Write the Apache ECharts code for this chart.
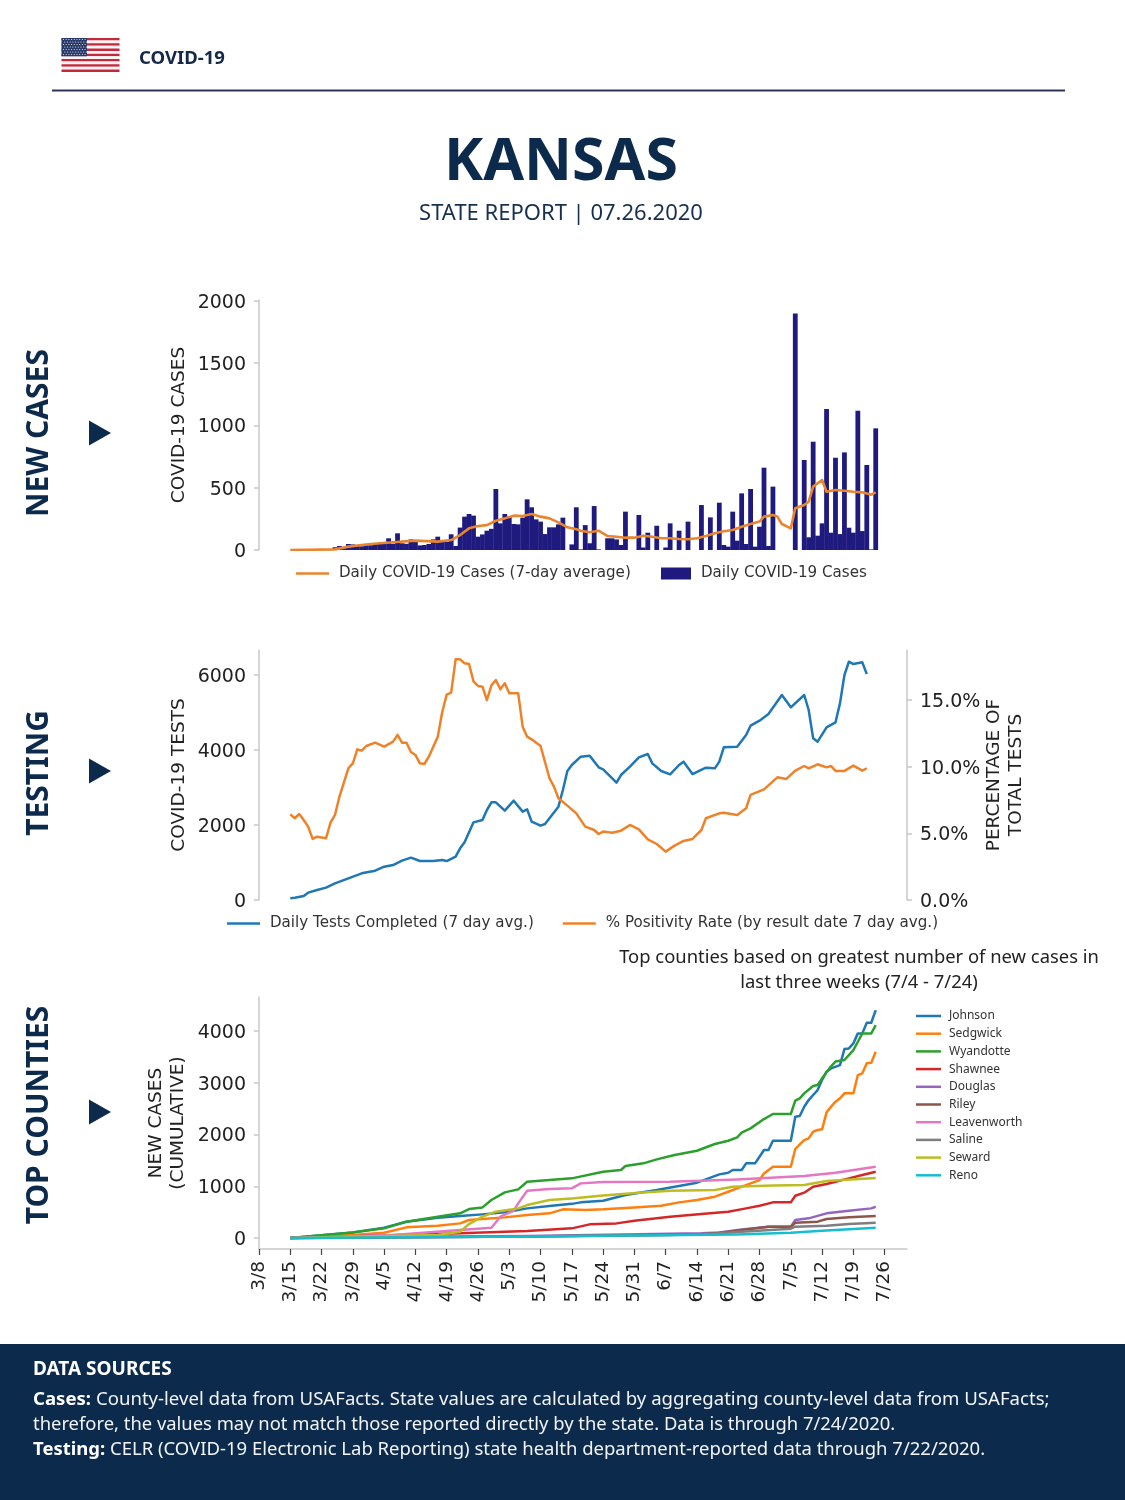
<!DOCTYPE html>
<html><head><meta charset="utf-8">
<style>html,body{margin:0;padding:0;background:#fff}#c{width:1125px;height:1500px}</style>
<script src="https://cdn.jsdelivr.net/npm/echarts@6/dist/echarts.min.js"></script>
</head><body><div id="c"></div>
<script>
// x values are day numbers counted from 3/8
const tickDays=[0,7,14,21,28,35,42,49,56,63,70,77,84,91,98,105,112,119,126,133,140];
const tickLabels=["3/8","3/15","3/22","3/29","4/5","4/12","4/19","4/26","5/3","5/10","5/17","5/24","5/31","6/7","6/14","6/21","6/28","7/5","7/12","7/19","7/26"];
const caseStartDay=7;
const dailyCases=[0,0,0,0,0,0,0,0,0,0,22,32,14,48,45,32,30,38,38,48,58,60,94,50,134,54,50,85,67,37,40,48,85,107,80,65,126,32,180,268,289,276,107,125,155,170,490,214,289,268,209,206,260,407,343,246,228,128,182,182,206,260,0,45,343,5,200,54,353,5,0,94,94,85,40,308,0,0,281,20,139,0,195,0,20,214,0,155,0,228,0,0,361,0,262,0,380,40,27,308,75,455,48,490,27,187,661,32,509,0,0,0,0,1900,0,723,102,870,115,214,1132,139,741,128,784,179,139,1119,152,683,5,977];
const avgDays=[7,17,20,25,30,35,40,43,45,47,49,51,53,55,57,59,61,63,65,67,69,71,72,74,76,77,78,80,82,84,86,88,90,92,94,96,98,100,102,104,106,108,110,112,113,115,116,117,119,120,122,123,124,126,127,129,131,133,135,137,138];
const avgCases=[0,5,27,48,62,75,67,80,120,174,193,200,235,254,276,273,289,268,254,222,182,166,155,142,155,134,112,107,99,99,115,107,94,94,88,86,94,112,134,150,160,187,209,228,268,281,268,209,174,335,361,388,509,562,468,482,476,468,463,444,463];

const testDays=[7,8,10,11,13,15,17,20,23,26,28,30,32,34,36,39,41,42,44,45,46,48,50,51,52,53,55,57,59,60,61,63,64,67,68,69,70,72,74,76,77,80,81,83,85,87,88,90,92,94,95,97,100,102,103,104,107,109,110,112,114,117,119,122,123,124,125,127,129,130,131,132,133,135,136];
const testValues=[44,62,107,196,267,329,444,578,711,782,889,933,1049,1129,1040,1040,1067,1040,1156,1378,1538,2071,2133,2400,2604,2604,2382,2649,2356,2418,2089,1982,2027,2489,2933,3440,3600,3822,3849,3538,3484,3129,3333,3556,3804,3893,3644,3440,3351,3600,3689,3360,3529,3511,3689,4071,4089,4400,4649,4782,4960,5467,5138,5467,5067,4311,4222,4604,4738,5244,6000,6356,6293,6338,6027];
const posDays=[7,8,9,10,11,12,13,15,16,17,18,20,21,22,23,24,26,28,30,31,32,33,34,35,36,37,38,40,41,42,43,44,45,46,47,48,49,50,51,52,53,54,55,56,58,59,60,61,63,65,66,67,69,71,73,75,76,77,79,81,83,85,87,89,91,93,95,97,99,100,103,104,107,109,110,113,116,118,120,122,123,125,127,128,129,131,133,135,136];
const posValues=[6.42,6.13,6.45,6.0,5.5,4.58,4.75,4.63,5.8,6.38,7.75,9.88,10.25,11.3,11.2,11.55,11.8,11.5,11.88,12.38,11.8,11.8,11.1,10.88,10.25,10.2,10.75,12.25,14.1,15.4,15.55,18.05,18.05,17.75,17.7,16.4,16.05,16,15,16.1,16.5,15.8,16.25,15.5,15.5,13,12.25,12.05,11.55,9.13,8.5,7.63,7.08,6.5,5.5,5.25,4.95,5.13,5.05,5.2,5.63,5.3,4.55,4.2,3.63,4.08,4.43,4.58,5.25,6.13,6.5,6.55,6.38,6.88,7.88,8.3,9.2,9.08,9.7,10.05,9.88,10.18,9.95,10.05,9.68,9.68,10.08,9.7,9.88];

const johnsonDays=[7,21,28,33,40,45,50,55,57,60,65,70,72,77,82,89,98,103,105,106,108,109,111,112,113,114,115,119,120,121,122,123,124,125,126,127,128,130,131,132,133,134,135,136,137,138];
const johnsonCases=[0,109,200,316,393,425,457,496,528,573,618,660,689,721,831,927,1069,1230,1262,1314,1314,1443,1443,1571,1700,1700,1880,1880,2344,2357,2537,2666,2763,2859,3053,3214,3278,3342,3651,3664,3761,3954,3954,4160,4160,4405];
const sedgwickDays=[7,21,28,33,40,45,47,50,55,60,65,68,73,77,84,90,94,98,102,105,107,110,112,113,115,119,120,121,122,123,124,125,126,127,128,129,130,131,133,134,135,136,137,138];
const sedgwickCases=[0,58,103,206,238,283,348,367,399,444,477,554,541,554,592,625,689,734,799,895,960,1056,1120,1249,1378,1378,1720,1810,1893,1925,2055,2087,2100,2428,2538,2634,2700,2795,2795,3149,3182,3375,3388,3600];
const wyandotteDays=[7,21,28,33,40,45,47,50,52,55,58,60,65,70,77,81,82,86,89,93,98,102,105,107,108,110,113,115,119,120,121,122,124,125,126,128,129,131,133,134,135,137,138];
const wyandotteCases=[0,109,187,316,412,477,560,592,734,882,940,1088,1120,1153,1282,1314,1391,1443,1520,1604,1687,1816,1880,1945,2035,2119,2299,2396,2396,2653,2698,2795,2937,2956,3085,3317,3409,3439,3632,3793,3954,3954,4115];
const shawneeDays=[7,45,60,70,74,80,84,92,99,105,109,112,115,119,120,122,124,127,129,132,135,138];
const shawneeCases=[0,90,135,187,264,283,335,412,464,509,573,625,689,689,818,876,992,1043,1088,1153,1217,1282];
const douglasDays=[7,60,99,103,108,114,119,120,123,127,132,137,138];
const douglasCases=[0,40,90,109,167,219,219,348,380,477,528,573,605];
const rileyDays=[7,60,99,104,108,114,119,120,125,127,132,138];
const rileyCases=[0,30,70,109,155,219,219,296,316,367,400,425];
const leavenworthDays=[7,30,45,52,54,57,58,60,65,70,72,77,92,107,122,129,138];
const leavenworthCases=[0,58,155,200,412,528,670,914,947,960,1056,1082,1088,1133,1198,1262,1378];
const salineDays=[7,60,99,108,119,120,127,132,138];
const salineCases=[0,30,70,122,180,219,238,270,296];
const sewardDays=[7,40,45,47,50,53,58,60,65,70,77,85,92,102,106,115,122,127,138];
const sewardCases=[0,58,122,270,412,509,573,637,734,766,824,876,914,927,992,1017,1024,1101,1159];
const renoDays=[7,60,107,119,126,138];
const renoCases=[0,30,70,103,142,200];

const leftTicks1=[0,500,1000,1500,2000];
const leftTicks2=[0,2000,4000,6000];
const rightTicks2=[0,5,10,15];
const leftTicks3=[0,1000,2000,3000,4000];

const NAVY='#0c2a4b', TXT='#222222', AX='#c8c8c8';
const DJ='"DejaVu Sans"', NS='"Noto Sans"';
const zip=(a,b)=>a.map((v,i)=>[v,b[i]]);
const yAxisBase=(grid,min,max,ticks,name,gap,fmt)=>({type:'value',gridIndex:grid,min,max,name,nameLocation:'middle',nameGap:gap,nameRotate:90,nameMoveOverlap:false,
  nameTextStyle:{fontFamily:DJ,fontSize:18.5,color:TXT,lineHeight:22},
  axisLine:{show:true,onZero:false,lineStyle:{color:AX,width:1.5}},
  axisTick:{show:true,length:5,customValues:ticks,lineStyle:{color:AX,width:1.5}},
  axisLabel:{customValues:ticks,fontFamily:DJ,fontSize:19,color:TXT,margin:13,verticalAlign:'top',lineHeight:4,formatter:fmt||(v=>String(v))},splitLine:{show:false}});
const xHidden=g=>({type:'value',gridIndex:g,min:0,max:145,show:false,splitLine:{show:false}});
const line=(name,days,vals,color,x,y,w)=>({name,type:'line',xAxisIndex:x,yAxisIndex:y,data:zip(days,vals),showSymbol:false,symbol:'none',lineStyle:{color,width:w||2.5,join:'round'},itemStyle:{color},silent:true,animation:false});

const gfx=[];
const txt=(text,x,y,size,weight,color,extra)=>gfx.push({type:'text',x,y,rotation:(extra&&extra.rot)||0,style:Object.assign({text,fontFamily:NS,fontSize:size,fontWeight:weight,fill:color,align:(extra&&extra.align)||'center',verticalAlign:'middle'},extra&&extra.style||{})});
// flag
const stripeH=34/13;
for(let i=0;i<13;i++)gfx.push({type:'rect',shape:{x:61.5,y:38+i*stripeH,width:58,height:stripeH},style:{fill:i%2?'#fbf3f3':'#c4283c'}});
gfx.push({type:'rect',shape:{x:61.5,y:38,width:25.5,height:18.3},style:{fill:'#2a3a68'}});
for(let r=0;r<7;r++)for(let c=0;c<9;c++)gfx.push({type:'circle',shape:{cx:63.5+c*2.7+(r%2?1.3:0),cy:39.5+r*2.5,r:.6},style:{fill:'#e4e8f2'}});
txt('COVID-19',139,58.5,18.5,700,'#14284a',{align:'left'});
gfx.push({type:'rect',shape:{x:52,y:89.5,width:1013,height:2},style:{fill:'#2f3558'}});
txt('KANSAS',561,163,59,700,NAVY);
txt('STATE REPORT | 07.26.2020',561,214,22,400,'#17304f');
// section labels
txt('NEW CASES',39,433,30,700,NAVY,{rot:Math.PI/2});
txt('TESTING',39,773,30,700,NAVY,{rot:Math.PI/2});
txt('TOP COUNTIES',39,1115,30,700,NAVY,{rot:Math.PI/2});
[433,771,1112].forEach(y=>gfx.push({type:'polygon',shape:{points:[[89,y-12.5],[111,y],[89,y+12.5]]},style:{fill:NAVY}}));
txt('Top counties based on greatest number of new cases in',859,958,18.4,400,'#222');
txt('last three weeks (7/4 - 7/24)',859,983,18.4,400,'#222');
// footer
gfx.push({type:'rect',z:-1,shape:{x:0,y:1344,width:1125,height:156},style:{fill:NAVY}});
const richF={b:{fontFamily:NS,fontSize:18.6,fontWeight:700,fill:'#fff'},n:{fontFamily:NS,fontSize:18.6,fill:'#f2f4f7'}};
const richG={b:{fontFamily:NS,fontSize:18.5,fontWeight:700,fill:'#fff'},n:{fontFamily:NS,fontSize:18.5,fill:'#f2f4f7'}};
txt('DATA SOURCES',33,1370,19,700,'#fff',{align:'left'});
txt('{b|Cases:} {n|County-level data from USAFacts. State values are calculated by aggregating county-level data from USAFacts;}',33,1400,18.6,400,'#fff',{align:'left',style:{rich:richF}});
txt('therefore, the values may not match those reported directly by the state. Data is through 7/24/2020.',33,1425,18.4,400,'#f2f4f7',{align:'left'});
txt('{b|Testing:} {n|CELR (COVID-19 Electronic Lab Reporting) state health department-reported data through 7/22/2020.}',33,1450,18.5,400,'#fff',{align:'left',style:{rich:richG}});

const countyColors=['#1f77b4','#ff7f0e','#2ca02c','#d62728','#9467bd','#8c564b','#e377c2','#7f7f7f','#bcbd22','#17becf'];
const counties=[['Johnson',johnsonDays,johnsonCases],['Sedgwick',sedgwickDays,sedgwickCases],['Wyandotte',wyandotteDays,wyandotteCases],['Shawnee',shawneeDays,shawneeCases],['Douglas',douglasDays,douglasCases],['Riley',rileyDays,rileyCases],['Leavenworth',leavenworthDays,leavenworthCases],['Saline',salineDays,salineCases],['Seward',sewardDays,sewardCases],['Reno',renoDays,renoCases]];
const legTxt={fontFamily:DJ,fontSize:15.1,color:'#333',padding:[0,0,0,5]};
const option={animation:false,backgroundColor:'#fff',
 grid:[{left:259,top:300,width:648,height:250},{left:259,top:650,width:648,height:250},{left:259,top:997,width:648,height:252}],
 xAxis:[xHidden(0),xHidden(1),{type:'value',gridIndex:2,min:0,max:145,
   axisLine:{show:true,onZero:false,lineStyle:{color:AX,width:1.5}},
   axisTick:{show:true,length:6,customValues:tickDays,lineStyle:{color:'#444',width:1.2}},
   axisLabel:{customValues:tickDays,rotate:90,fontFamily:DJ,fontSize:18.5,color:TXT,margin:12,formatter:v=>tickLabels[tickDays.indexOf(v)]},splitLine:{show:false}}],
 yAxis:[yAxisBase(0,0,2008,leftTicks1,'COVID-19 CASES',69),
  yAxisBase(1,0,6667,leftTicks2,'COVID-19 TESTS',69),
  Object.assign(yAxisBase(1,0,18.75,rightTicks2,'PERCENTAGE OF\nTOTAL TESTS',76,v=>v.toFixed(1)+'%'),{position:'right'}),
  yAxisBase(2,-212,4657,leftTicks3,'NEW CASES\n(CUMULATIVE)',70)],
 legend:[
  {left:296,top:566,padding:0,icon:'rect',itemWidth:33,itemHeight:2.5,textStyle:legTxt,selectedMode:false,data:['Daily COVID-19 Cases (7-day average)']},
  {left:661,top:566,padding:0,icon:'rect',itemWidth:30,itemHeight:12,textStyle:legTxt,selectedMode:false,data:['Daily COVID-19 Cases']},
  {left:227,top:916,padding:0,icon:'rect',itemWidth:33,itemHeight:2.5,itemGap:29,textStyle:legTxt,selectedMode:false,data:['Daily Tests Completed (7 day avg.)','% Positivity Rate (by result date 7 day avg.)']},
  {left:916,top:1010,padding:0,icon:'rect',orient:'vertical',itemWidth:25,itemHeight:2.5,itemGap:5.7,textStyle:{fontFamily:NS,fontSize:12,color:'#333',padding:[0,0,0,3]},selectedMode:false,data:counties.map(c=>c[0])}],
 series:[
  {name:'Daily COVID-19 Cases',type:'bar',xAxisIndex:0,yAxisIndex:0,barWidth:4.8,data:dailyCases.map((v,i)=>[caseStartDay+i,v]),itemStyle:{color:'#1f1a7e'},silent:true},
  line('Daily COVID-19 Cases (7-day average)',avgDays,avgCases,'#e8852e',0,0,2.6),
  line('Daily Tests Completed (7 day avg.)',testDays,testValues,'#1f77b4',1,1),
  line('% Positivity Rate (by result date 7 day avg.)',posDays,posValues,'#ee8229',1,2),
  ...counties.map((c,i)=>line(c[0],c[1],c[2],countyColors[i],2,3))
 ],
 graphic:{elements:gfx}};
echarts.init(document.getElementById('c')).setOption(option);
</script></body></html>
